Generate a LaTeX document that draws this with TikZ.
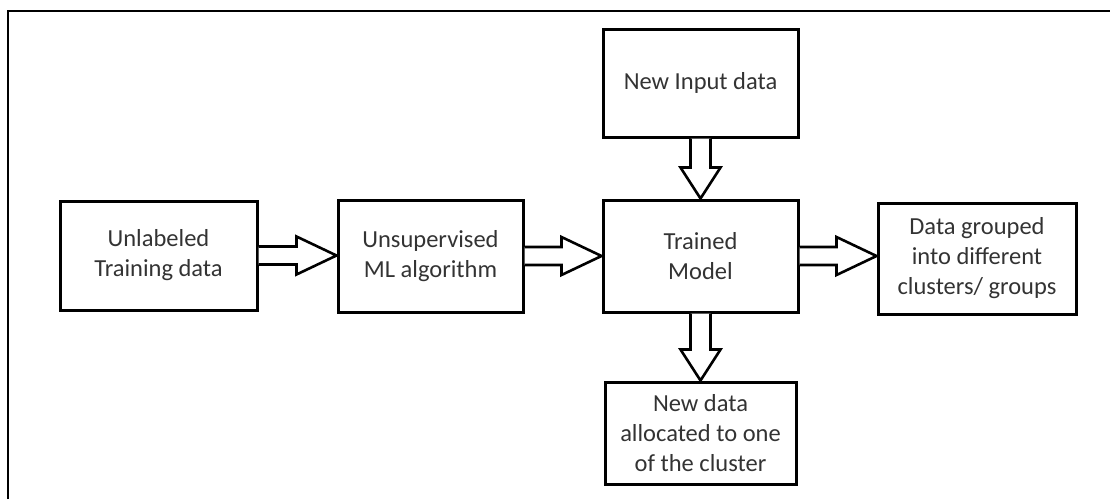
\documentclass[tikz,border=0pt]{standalone}
\usepackage{fontspec}
\setmainfont{Carlito}
\usetikzlibrary{calc}
\tikzset{
  block_n/.style = {draw=black, line width=3pt, align=center, inner sep=0pt,
    text=black!80, font=\fontsize{24.5}{30}\selectfont},% process box
  hollow_a/.style = {draw=black, line width=2.6pt, fill=white,
    line join=miter},% block arrow outline
}
% hollow block arrow, left to right
\newcommand{\harr}[2]{\draw[hollow_a] let \p1=(#1.east), \p2=(#2.west) in
  (\x1,\y1+9pt) -- (\x2-40pt,\y1+9pt) -- (\x2-40pt,\y1+19pt) -- (\x2,\y1)
  -- (\x2-40pt,\y1-19pt) -- (\x2-40pt,\y1-9pt) -- (\x1,\y1-9pt);}
% hollow block arrow, top to bottom
\newcommand{\varr}[2]{\draw[hollow_a] let \p1=(#1.south), \p2=(#2.north) in
  (\x1-10pt,\y1) -- (\x1-10pt,\y2+31pt) -- (\x1-20pt,\y2+31pt) -- (\x1,\y2)
  -- (\x1+20pt,\y2+31pt) -- (\x1+10pt,\y2+31pt) -- (\x1+10pt,\y1);}

\begin{document}
\begin{tikzpicture}[x=1pt,y=-1pt]
\useasboundingbox (0,0) rectangle (1110,499);
\draw[line width=2pt] (8,499) -- (8,11) -- (1110,11);

\node[block_n, minimum width=197pt, minimum height=109pt] (train) at (158.5,255.5)
  {Unlabeled\\Training data};
\node[block_n, minimum width=185pt, minimum height=112pt] (algo) at (430.5,256)
  {Unsupervised\\ML algorithm};
\node[block_n, minimum width=195pt, minimum height=112pt] (model) at (700.5,256)
  {Trained\\Model};
\node[block_n, minimum width=195pt, minimum height=108pt] (newin) at (700.5,83)
  {New Input data};
\node[block_n, minimum width=198pt, minimum height=111pt] (groups) at (977,258.5)
  {Data grouped\\into different\\clusters/ groups};
\node[block_n, minimum width=191pt, minimum height=102pt] (alloc) at (700.5,433)
  {New data\\allocated to one\\of the cluster};

\harr{train}{algo}
\harr{algo}{model}
\harr{model}{groups}
\varr{newin}{model}
\varr{model}{alloc}
\end{tikzpicture}
\end{document}
